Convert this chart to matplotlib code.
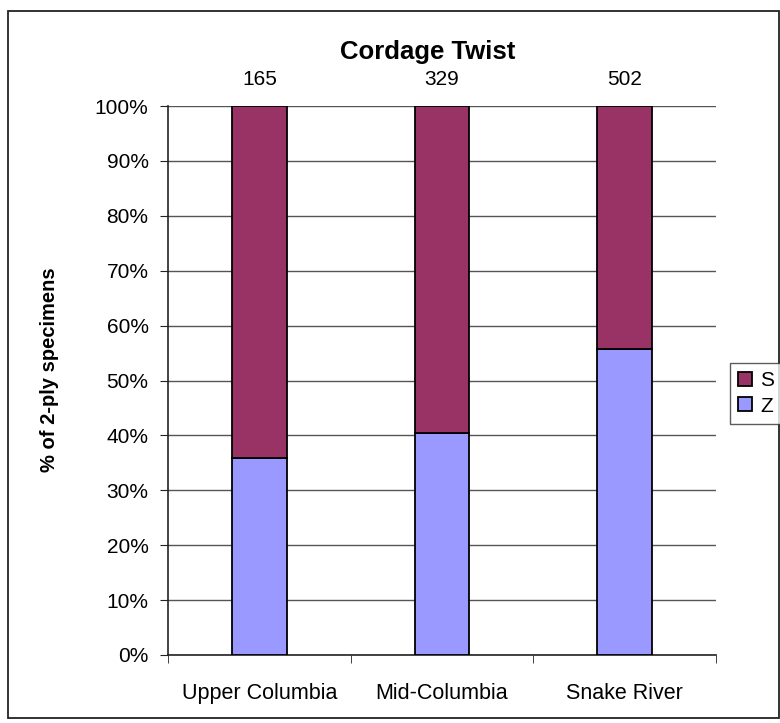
import matplotlib
matplotlib.use("Agg")
import matplotlib.pyplot as plt
from matplotlib.patches import Rectangle
from matplotlib.ticker import FuncFormatter, MultipleLocator

plt.rcParams['font.family'] = ['Liberation Sans', 'DejaVu Sans']

regions = ["Upper Columbia", "Mid-Columbia", "Snake River"]
counts = [165, 329, 502]
z_pct = [35.8, 40.4, 55.8]
s_pct = [100 - z for z in z_pct]

S_COLOR = "#993366"
Z_COLOR = "#9999FF"

W, H = 780, 723
fig = plt.figure(figsize=(W / 100, H / 100), dpi=100)

# outer chart frame
fig.patches.append(Rectangle((8 / W, 1 - 718 / H), 771 / W, (718 - 11) / H,
                             transform=fig.transFigure, fill=False,
                             edgecolor="#222222", linewidth=1.3))

ax = fig.add_axes([168 / W, 1 - 655 / H, (716 - 168) / W, (655 - 106) / H])
x = list(range(len(regions)))
width = 0.30
ax.bar(x, z_pct, width=width, color=Z_COLOR, edgecolor="black", linewidth=1.3, label="Z", zorder=3)
ax.bar(x, s_pct, width=width, bottom=z_pct, color=S_COLOR, edgecolor="black", linewidth=1.3, label="S", zorder=3)

ax.set_xlim(-0.5, len(regions) - 0.5)
ax.set_ylim(0, 100)
ax.yaxis.set_major_locator(MultipleLocator(10))
ax.yaxis.set_major_formatter(FuncFormatter(lambda v, p: f"{v:.0f}%"))
ax.grid(axis="y", color="#555555", linewidth=1.0, zorder=0)
ax.set_axisbelow(True)

ax.set_xticks(x)
ax.set_xticklabels(regions)
ax.set_xticks([i - 0.5 for i in range(len(regions) + 1)], minor=True)
ax.tick_params(axis="x", which="major", length=0, pad=20, labelsize=15.5)
ax.tick_params(axis="x", which="minor", length=6, direction="out", color="#222222")
ax.tick_params(axis="y", length=6, direction="out", labelsize=15, pad=8, color="#222222")

for sp in ["top", "right"]:
    ax.spines[sp].set_visible(False)
for sp in ["left", "bottom"]:
    ax.spines[sp].set_color("#222222")
    ax.spines[sp].set_linewidth(1.2)

for xi, n in zip(x, counts):
    ax.annotate(str(n), (xi, 100), xytext=(0, 12), textcoords="offset points",
                ha="center", va="bottom", fontsize=15)

fig.text(428 / W, 1 - 52 / H, "Cordage Twist", ha="center", va="center",
         fontsize=18.5, fontweight="bold")
fig.text(50 / W, 1 - 370 / H, "% of 2-ply specimens", rotation=90, ha="center", va="center",
         fontsize=14.5, fontweight="bold")

handles, labels = ax.get_legend_handles_labels()
leg = fig.legend(handles[::-1], labels[::-1], loc="upper left",
                 bbox_to_anchor=(730 / W, 1 - 363 / H), frameon=True, fancybox=False,
                 fontsize=15, handlelength=0.65, handleheight=0.65, handletextpad=0.4,
                 borderpad=0.4, labelspacing=0.3, borderaxespad=0)
leg.get_frame().set_edgecolor("#333333")
leg.get_frame().set_linewidth(1.0)

fig.savefig("out.png", dpi=100)
